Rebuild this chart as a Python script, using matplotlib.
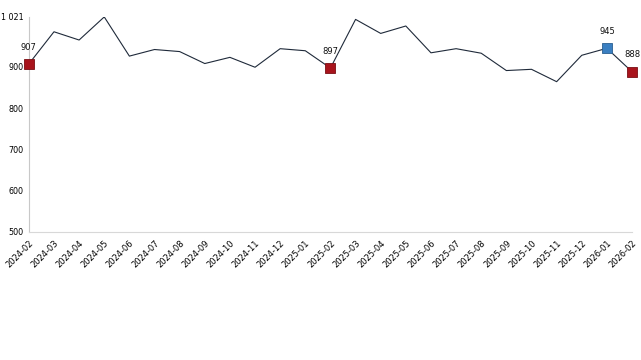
import matplotlib.pyplot as plt

months = ['2024-02', '2024-03', '2024-04', '2024-05', '2024-06', '2024-07',
          '2024-08', '2024-09', '2024-10', '2024-11', '2024-12', '2025-01',
          '2025-02', '2025-03', '2025-04', '2025-05', '2025-06', '2025-07',
          '2025-08', '2025-09', '2025-10', '2025-11', '2025-12', '2026-01',
          '2026-02']
values = [907, 985, 965, 1021, 926, 942, 937, 908, 923, 899, 944, 939,
          897, 1015, 981, 999, 934, 944, 933, 891, 894, 864, 928, 945, 888]

# highlighted points
red_pts = [0, 12, 24]
blue_pts = [23]
yticks = [500, 600, 700, 800, 900, 1021]
ytick_labels = ['500', '600', '700', '800', '900', '1 021']

fig = plt.figure(figsize=(6.41, 3.6), dpi=100)
ax = fig.add_axes([0.045, 0.356, 0.941, 0.597])

x = list(range(len(months)))
ax.plot(x, values, '-', color='#1f2a3a', lw=0.8, zorder=2)

def mark(i, fc, ec):
  ax.plot(x[i], values[i], 's', ms=7, color=fc, mec=ec, mew=0.6, zorder=3, clip_on=False)
  ax.text(x[i], values[i] + 30, str(values[i]), ha='center', va='bottom',
          fontsize=6, color='#111111')

for i in red_pts:
  mark(i, '#a8141c', '#7a0e14')
for i in blue_pts:
  mark(i, '#3a7fc1', '#2a5f91')

ax.set_xlim(0, len(months) - 1)
ax.set_ylim(500, 1021)
ax.set_xticks(x)
ax.set_xticklabels(months, rotation=45, ha='right', rotation_mode='anchor', fontsize=6)
ax.set_yticks(yticks)
ax.set_yticklabels(ytick_labels, fontsize=5.8)
ax.tick_params(axis='x', length=0, pad=5)
ax.tick_params(axis='y', length=0, pad=4)

for s in ['top', 'right']:
  ax.spines[s].set_visible(False)
ax.spines['left'].set_color('#c8c8c8')
ax.spines['bottom'].set_color('#d8d8d8')
ax.spines['left'].set_linewidth(0.8)
ax.spines['bottom'].set_linewidth(0.8)

fig.savefig('out.png', dpi=100)
